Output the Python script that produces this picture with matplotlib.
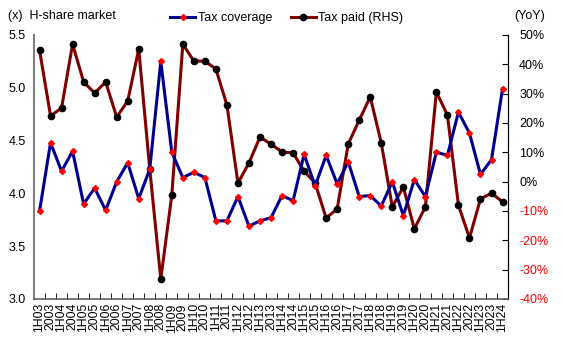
import matplotlib.pyplot as plt
import numpy as np
from matplotlib.ticker import FuncFormatter, FixedLocator

plt.rcParams['font.family'] = ['Liberation Sans', 'DejaVu Sans']

periods = ['1H03', '2003', '1H04', '2004', '1H05', '2005', '1H06', '2006', '1H07', '2007',
           '1H08', '2008', '1H09', '2009', '1H10', '2010', '1H11', '2011', '1H12', '2012',
           '1H13', '2013', '1H14', '2014', '1H15', '2015', '1H16', '2016', '1H17', '2017',
           '1H18', '2018', '1H19', '2019', '1H20', '2020', '1H21', '2021', '1H22', '2022',
           '1H23', '2023', '1H24']

# tax coverage (x), left axis
tax_coverage = [3.83, 4.48, 4.21, 4.40, 3.90, 4.05, 3.84, 4.11, 4.29, 3.95,
                4.23, 5.25, 4.39, 4.15, 4.20, 4.15, 3.74, 3.74, 3.97, 3.69,
                3.74, 3.77, 3.98, 3.93, 4.37, 4.07, 4.36, 4.09, 4.30, 3.97,
                3.98, 3.88, 4.11, 3.79, 4.13, 3.97, 4.39, 4.36, 4.77, 4.57,
                4.18, 4.32, 4.99]

# tax paid YoY (%), right axis
tax_paid = [44.9, 22.4, 25.1, 46.9, 34.0, 30.2, 34.0, 22.0, 27.5, 45.2,
            4.3, -33.2, -4.6, 46.9, 41.1, 41.1, 38.4, 26.1, -0.5, 6.4,
            15.2, 12.8, 10.1, 9.8, 3.6, -0.5, -12.4, -9.3, 12.8, 21.0,
            28.9, 13.2, -8.6, -1.8, -16.1, -8.6, 30.6, 22.7, -8.0, -19.2,
            -5.9, -3.9, -6.9]

x = np.arange(len(periods))

fig = plt.figure(figsize=(5.62, 3.52), dpi=100)
ax = fig.add_axes([0.0605, 0.1506, 0.8435, 0.75])
ax2 = ax.twinx()

ax2.plot(x, tax_paid, color='#800000', lw=2.2, marker='o', ms=4.5,
         mfc='black', mec='black', label='Tax paid (RHS)', zorder=2)
ax.plot(x, tax_coverage, color='#000090', lw=2.2, marker='D', ms=3,
        mfc='red', mec='red', label='Tax coverage', zorder=3)
ax.set_zorder(ax2.get_zorder() + 1)
ax.patch.set_visible(False)

ax.set_xlim(-0.5, len(periods) - 0.5)
ax.set_ylim(3.0, 5.5)
ax.set_yticks(np.arange(3.0, 5.51, 0.5))
ax.yaxis.set_major_formatter(FuncFormatter(lambda v, p: f'{v:.1f}'))
ax2.set_ylim(-40, 50)
ax2.set_yticks(np.arange(-40, 51, 10))
ax2.yaxis.set_major_formatter(FuncFormatter(lambda v, p: f'{v:.0f}%'))

ax.set_xticks(x)
ax.set_xticklabels(periods, rotation=90, fontsize=8.8)
ax.xaxis.set_minor_locator(FixedLocator(x[:-1] + 0.5))
ax.tick_params(axis='x', which='major', length=0, pad=3)
ax.tick_params(axis='x', which='minor', direction='in', length=4, color='black')
ax.tick_params(axis='y', length=0, labelsize=9, pad=6)
ax2.tick_params(axis='y', direction='in', length=4, labelsize=9, pad=8)

for v, lbl in zip(ax2.get_yticks(), ax2.get_yticklabels()):
    if v < 0:
        lbl.set_color('red')

for a in (ax, ax2):
    a.spines['top'].set_visible(False)
ax.spines['left'].set_color('#808080')
ax.spines['left'].set_linewidth(1.5)
ax.spines['bottom'].set_color('#606060')
ax.spines['bottom'].set_linewidth(1.2)
ax2.spines['left'].set_visible(False)
ax2.spines['bottom'].set_visible(False)
ax2.spines['right'].set_color('black')

fig.text(0.014, 0.955, '(x)  H-share market', fontsize=9, va='center')
fig.text(0.915, 0.955, '(YoY)', fontsize=9, va='center')

h1, l1 = ax.get_legend_handles_labels()
h2, l2 = ax2.get_legend_handles_labels()
fig.legend(h1 + h2, l1 + l2, loc='center', bbox_to_anchor=(0.51, 0.948), ncol=2,
           frameon=False, fontsize=9, handlelength=2.0, handletextpad=0.2,
           columnspacing=1.5, borderaxespad=0)

fig.savefig('out.png', dpi=100)
